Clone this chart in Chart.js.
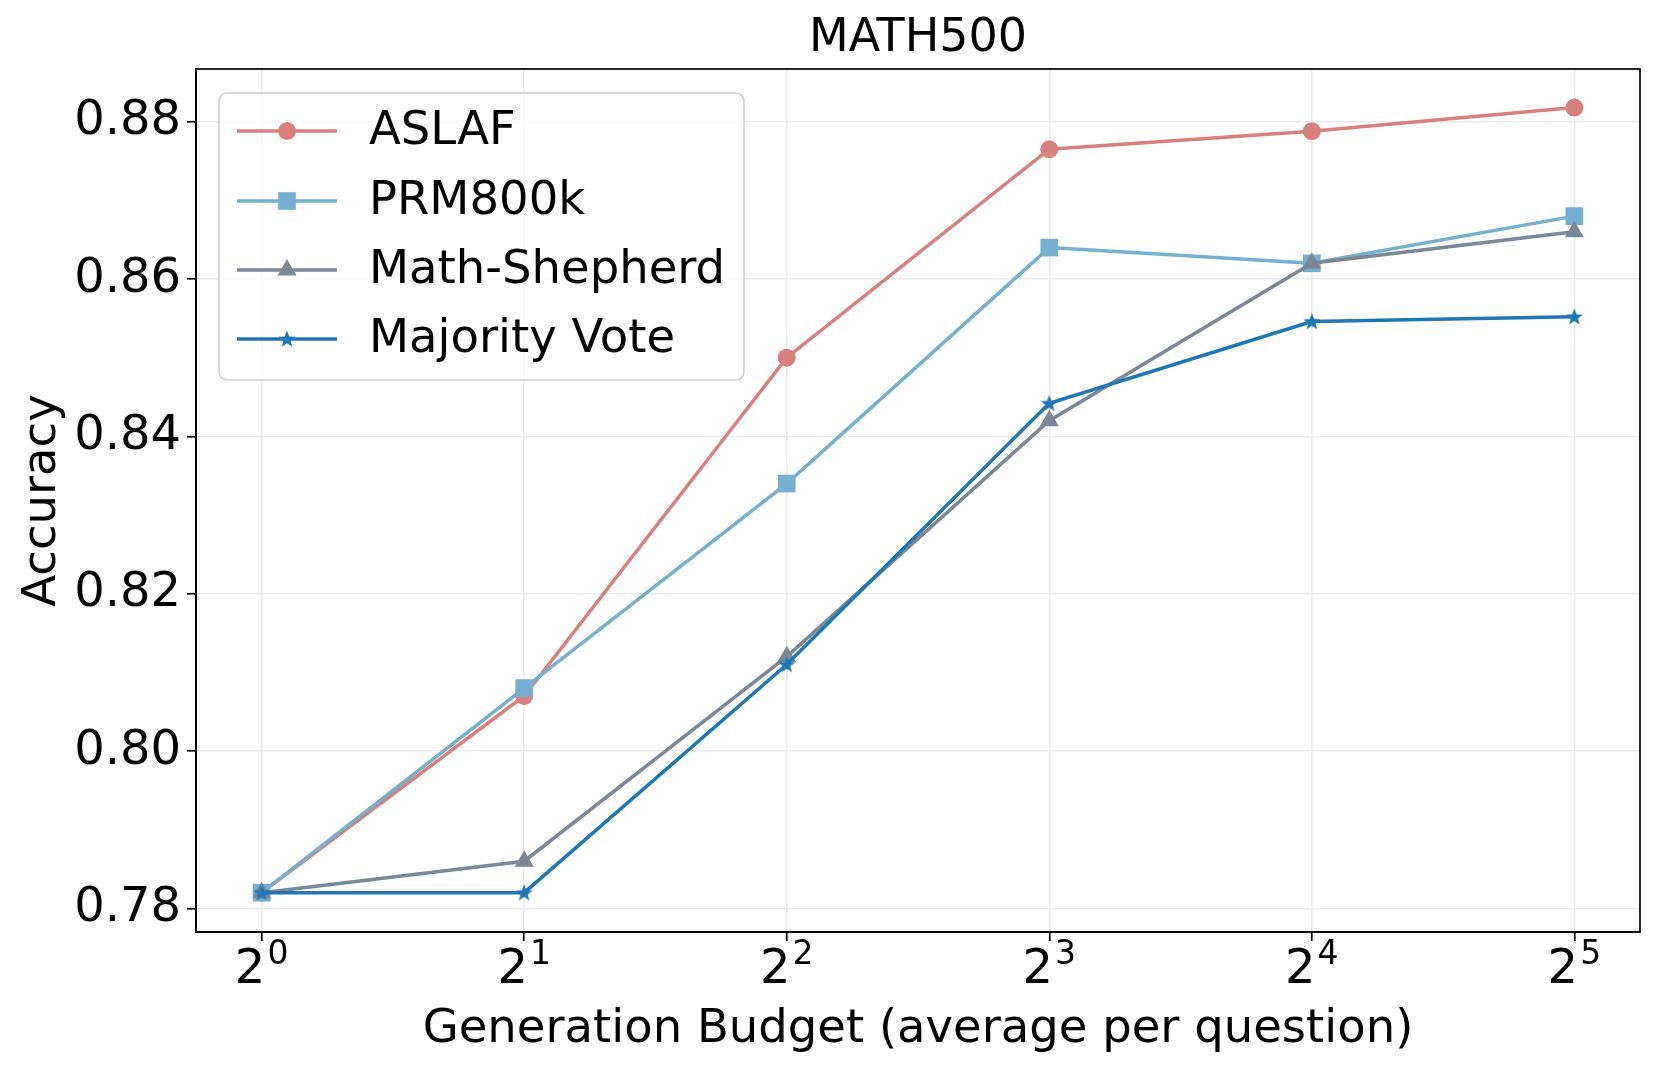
<!DOCTYPE html>
<html><head><meta charset="utf-8">
<script src="https://cdn.jsdelivr.net/npm/chart.js@4.4.0/dist/chart.umd.min.js"></script>
<style>html,body{margin:0;padding:0;background:#fff;} #wrap{width:1660px;height:1069px;}</style>
</head><body><div id="wrap"><canvas id="c" width="1660" height="1069"></canvas></div>
<script>
// ---- data ----
const budgetExponents = [0, 1, 2, 3, 4, 5];
const xTickBase = '2';
const xTickExponents = ['0', '1', '2', '3', '4', '5'];
const yTickValues = [0.78, 0.80, 0.82, 0.84, 0.86, 0.88];
const seriesNames = ['ASLAF', 'PRM800k', 'Math-Shepherd', 'Majority Vote'];
const aslaf = [0.782, 0.807, 0.850, 0.8765, 0.8788, 0.8818];
const prm800k = [0.782, 0.808, 0.834, 0.864, 0.862, 0.868];
const mathShepherd = [0.782, 0.786, 0.812, 0.842, 0.862, 0.866];
const majorityVote = [0.782, 0.782, 0.811, 0.8442, 0.8546, 0.8552];
const chartTitle = 'MATH500';
const xTitle = 'Generation Budget (average per question)';
const yTitle = 'Accuracy';

// ---- styles ----
const FONT = 'DejaVu Sans';
const FS = 46.5;
const TICK_FS = 48;
const SUP_FS = 33;
const colors = ['#d8807b', '#76afd0', '#7b8898', '#1f77b4'];

function starPath(ctx, cx, cy, R, r) {
  ctx.beginPath();
  for (let i = 0; i < 10; i++) {
    const rad = (i % 2 === 0) ? R : r;
    const a = -Math.PI / 2 + i * Math.PI / 5;
    const px = cx + rad * Math.cos(a), py = cy + rad * Math.sin(a);
    if (i === 0) ctx.moveTo(px, py); else ctx.lineTo(px, py);
  }
  ctx.closePath();
}
const starCanvas = document.createElement('canvas');
starCanvas.width = 20; starCanvas.height = 20;
(function () {
  const c = starCanvas.getContext('2d');
  c.fillStyle = colors[3];
  starPath(c, 10, 10.5, 9, 3.8);
  c.fill();
})();

const pointStyles = ['circle', 'rect', 'triangle', starCanvas];
const pointRadii = [9, 12.5, 11, 9];
const seriesValues = [aslaf, prm800k, mathShepherd, majorityVote];

const datasets = seriesNames.map((name, i) => ({
  label: name,
  data: budgetExponents.map((x, j) => ({ x: x, y: seriesValues[i][j] })),
  borderColor: colors[i],
  backgroundColor: colors[i],
  borderWidth: 3.5,
  pointStyle: pointStyles[i],
  pointRadius: pointRadii[i],
  pointHoverRadius: pointRadii[i],
  pointBorderWidth: 0,
  pointBackgroundColor: colors[i],
  tension: 0,
  order: seriesNames.length - 1 - i
}));

const framePlugin = {
  id: 'frame',
  afterDatasetsDraw(chart) {
    const { ctx, chartArea: a } = chart;
    ctx.save();
    ctx.strokeStyle = '#000';
    ctx.lineWidth = 1.7;
    ctx.strokeRect(a.left, a.top, a.right - a.left, a.bottom - a.top);
    ctx.restore();
  }
};

// x tick labels as base with superscript exponent, placed at the scale's tick pixels
const powerTickPlugin = {
  id: 'powerTicks',
  afterDraw(chart) {
    const { ctx } = chart;
    const xs = chart.scales.x;
    ctx.save();
    ctx.fillStyle = '#000';
    ctx.textAlign = 'left';
    ctx.textBaseline = 'alphabetic';
    budgetExponents.forEach((v, i) => {
      const px = xs.getPixelForValue(v);
      ctx.font = TICK_FS + 'px "' + FONT + '"';
      const wb = ctx.measureText(xTickBase).width;
      ctx.font = SUP_FS + 'px "' + FONT + '"';
      const we = ctx.measureText(xTickExponents[i]).width;
      const gap = 2;
      const left = px - (wb + gap + we) / 2;
      ctx.font = TICK_FS + 'px "' + FONT + '"';
      ctx.fillText(xTickBase, left, 983);
      ctx.font = SUP_FS + 'px "' + FONT + '"';
      ctx.fillText(xTickExponents[i], left + wb + gap, 964);
    });
    ctx.restore();
  }
};

function drawMarker(ctx, i, x, y) {
  ctx.fillStyle = colors[i];
  const st = pointStyles[i];
  const r = pointRadii[i];
  ctx.beginPath();
  if (st === 'circle') {
    ctx.arc(x, y, r, 0, Math.PI * 2); ctx.fill();
  } else if (st === 'rect') {
    const s = Math.SQRT1_2 * r;
    ctx.fillRect(x - s, y - s, 2 * s, 2 * s);
  } else if (st === 'triangle') {
    let rad = 0;
    ctx.moveTo(x + Math.sin(rad) * r, y - Math.cos(rad) * r);
    rad += 2 * Math.PI / 3;
    ctx.lineTo(x + Math.sin(rad) * r, y - Math.cos(rad) * r);
    rad += 2 * Math.PI / 3;
    ctx.lineTo(x + Math.sin(rad) * r, y - Math.cos(rad) * r);
    ctx.closePath(); ctx.fill();
  } else {
    ctx.drawImage(st, x - st.width / 2, y - st.height / 2);
  }
}

const legendPlugin = {
  id: 'boxLegend',
  afterDraw(chart) {
    const { ctx } = chart;
    const bx = 219, by = 93, bw = 525, bh = 287, rr = 8;
    ctx.save();
    ctx.beginPath();
    ctx.roundRect(bx, by, bw, bh, rr);
    ctx.fillStyle = 'rgba(255,255,255,0.8)';
    ctx.fill();
    ctx.strokeStyle = '#d0d0d0';
    ctx.lineWidth = 1.6;
    ctx.stroke();
    const rowY = [131, 201, 270, 339];
    chart.data.datasets.forEach((ds, i) => {
      const y = rowY[i];
      ctx.strokeStyle = colors[i];
      ctx.lineWidth = 3.5;
      ctx.beginPath();
      ctx.moveTo(237, y); ctx.lineTo(337, y);
      ctx.stroke();
      drawMarker(ctx, i, 287, y);
      ctx.fillStyle = '#000';
      ctx.font = FS + 'px "' + FONT + '"';
      ctx.textBaseline = 'middle';
      ctx.textAlign = 'left';
      ctx.fillText(ds.label, 369, y + 1);
    });
    ctx.restore();
  }
};

Chart.defaults.font.family = FONT;
Chart.defaults.color = '#000';

new Chart(document.getElementById('c'), {
  type: 'line',
  data: { datasets: datasets },
  options: {
    responsive: false,
    devicePixelRatio: 1,
    animation: false,
    layout: { padding: { left: 0, right: 20, top: 0, bottom: 0 } },
    plugins: {
      legend: { display: false },
      tooltip: { enabled: false },
      title: {
        display: true, text: chartTitle, color: '#000', fullSize: false,
        font: { family: FONT, size: 46, weight: 'normal' },
        padding: { top: 11, bottom: 2.8 }
      }
    },
    scales: {
      x: {
        type: 'linear', min: -0.25, max: 5.25,
        afterBuildTicks: s => { s.ticks = budgetExponents.map(v => ({ value: v })); },
        afterFit: s => { s.height = 137; },
        ticks: { display: false },
        grid: { color: '#ebebeb', lineWidth: 1.5, tickColor: '#000', tickLength: 9, tickWidth: 1.7 },
        border: { display: true, color: '#000', width: 1.7 },
        title: {
          display: true, text: xTitle, color: '#000',
          font: { family: FONT, size: FS }, padding: { top: 0, bottom: 11 }
        }
      },
      y: {
        type: 'linear', min: 0.777, max: 0.8867,
        afterBuildTicks: s => { s.ticks = yTickValues.map(v => ({ value: v })); },
        afterFit: s => { s.width = 196; },
        ticks: {
          padding: 6, color: '#000',
          font: { family: FONT, size: TICK_FS },
          callback: v => v.toFixed(2)
        },
        grid: { color: '#ebebeb', lineWidth: 1.5, tickColor: '#000', tickLength: 9, tickWidth: 1.7 },
        border: { display: true, color: '#000', width: 1.7 },
        title: {
          display: true, text: yTitle, color: '#000',
          font: { family: FONT, size: FS }, padding: { top: 15, bottom: 0 }
        }
      }
    }
  },
  plugins: [framePlugin, powerTickPlugin, legendPlugin]
});
</script>
</body></html>
